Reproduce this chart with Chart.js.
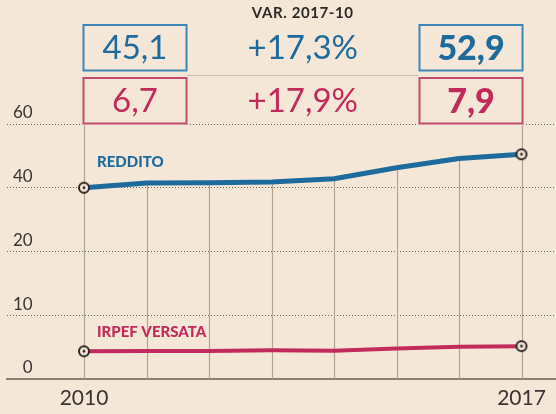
<!DOCTYPE html>
<html>
<head>
<meta charset="utf-8">
<script src="https://cdn.jsdelivr.net/npm/chart.js@4.4.1/dist/chart.umd.min.js"></script>
<style>
  html, body { margin: 0; padding: 0; background: #f5e7d8; }
  #wrap { width: 556px; height: 414px; }
</style>
</head>
<body>
<div id="wrap"><canvas id="chart" width="556" height="414"></canvas></div>
<script>
// values
const years = [2010, 2011, 2012, 2013, 2014, 2015, 2016, 2017];
const reddito = [40.0, 41.5, 41.6, 41.8, 42.8, 46.3, 49.2, 50.5];
const irpef = [4.35, 4.4, 4.4, 4.5, 4.45, 4.8, 5.05, 5.15];
const yTickValues = [0, 10, 20, 40, 60];
const xTickLabels = [2010, 2017];
const seriesNames = ["REDDITO", "IRPEF VERSATA"];
const startValues = [45.1, 6.7];
const endValues = [52.9, 7.9];
const changes = ["+17,3%", "+17,9%"];
const headerTitle = "VAR. 2017-10";

const BLUE = "#1d6a9c";
const RED = "#c02b5b";
const BG = "#f5e7d8";
const INK = "#3a3330";
const FONT = "Lato, 'Open Sans', sans-serif";

// the y axis is not linear: ticks 0,10,20,40,60 are evenly spaced
function toAxis(v) {
  for (let k = 0; k < yTickValues.length - 1; k++) {
    const a = yTickValues[k], b = yTickValues[k + 1];
    if (v <= b) return k + (v - a) / (b - a);
  }
  return yTickValues.length - 1;
}

const fmt = (v) => v.toFixed(1).replace(".", ",");

function makeMarker() {
  const c = document.createElement("canvas");
  c.width = 14; c.height = 14;
  const g = c.getContext("2d");
  g.beginPath();
  g.arc(7, 7, 5, 0, Math.PI * 2);
  g.fillStyle = BG;
  g.fill();
  g.lineWidth = 2;
  g.strokeStyle = "#2b2421";
  g.stroke();
  g.beginPath();
  g.arc(7, 7, 1.4, 0, Math.PI * 2);
  g.fillStyle = "#2b2421";
  g.fill();
  return c;
}
const marker = makeMarker();

const endPointRadius = (ctx) =>
  ctx.dataIndex === 0 || ctx.dataIndex === years.length - 1 ? 6 : 0;

// vertical lines from the reddito line down to the axis
const dropLines = {
  id: "dropLines",
  beforeDatasetsDraw(chart) {
    const { ctx, chartArea, scales } = chart;
    const pts = chart.getDatasetMeta(0).data;
    ctx.save();
    ctx.strokeStyle = "#b2a291";
    ctx.lineWidth = 1.2;
    years.forEach((yr, i) => {
      const px = Math.round(scales.x.getPixelForValue(yr)) + 0.5;
      const edge = i === 0 || i === years.length - 1;
      const top = edge ? chartArea.top - 1 : pts[i].y;
      ctx.beginPath();
      ctx.moveTo(px, top);
      ctx.lineTo(px, chartArea.bottom);
      ctx.stroke();
    });
    ctx.restore();
  },
};

// boxes with start/end values, variation and series names
const header = {
  id: "header",
  afterDraw(chart) {
    const { ctx, scales } = chart;
    const x0 = scales.x.getPixelForValue(years[0]);
    const x1 = scales.x.getPixelForValue(years[years.length - 1]);
    const boxW = 103, boxH = 45.5;
    const rows = [25, 78];
    const colors = [BLUE, RED];
    const borders = ["#3b86b6", "#c64c6e"];
    const mid = (x0 + x1) / 2;
    ctx.save();

    ctx.fillStyle = "#2e2825";
    ctx.font = "bold 15px " + FONT;
    ctx.letterSpacing = "0.6px";
    ctx.textAlign = "center";
    ctx.textBaseline = "middle";
    ctx.fillText(headerTitle, mid, 13);
    ctx.letterSpacing = "0px";

    // thin separator between the two rows
    ctx.strokeStyle = "#cdbdad";
    ctx.lineWidth = 1;
    ctx.beginPath();
    ctx.moveTo(x0 + boxW, 75.5);
    ctx.lineTo(x1 - boxW, 75.5);
    ctx.stroke();

    rows.forEach((top, r) => {
      [x0 - 0.5, x1 + 1 - boxW].forEach((left, c) => {
        ctx.fillStyle = BG;
        ctx.fillRect(left - 1, top - 1, boxW + 2, boxH + 3);
        ctx.strokeStyle = borders[r];
        ctx.lineWidth = 2;
        ctx.strokeRect(left, top, boxW, boxH);
        ctx.fillStyle = colors[r];
        ctx.font = c === 1 ? "900 34px " + FONT : "33px " + FONT;
        ctx.fillText(fmt(c === 0 ? startValues[r] : endValues[r]), left + boxW / 2, top + boxH / 2 + 1);
      });
      ctx.fillStyle = colors[r];
      ctx.font = "33px " + FONT;
      ctx.fillText(changes[r], mid, top + boxH / 2 + 1);
    });

    // series labels next to the first point
    const offsets = [-26, -19];
    [0, 1].forEach((d) => {
      const p = chart.getDatasetMeta(d).data[0];
      ctx.fillStyle = colors[d];
      ctx.font = "900 15px " + FONT;
      ctx.textAlign = "left";
      ctx.fillText(seriesNames[d], p.x + 13, p.y + offsets[d]);
    });
    ctx.restore();
  },
};

const pxPerYear = 62.5;

new Chart(document.getElementById("chart"), {
  type: "line",
  data: {
    datasets: [
      {
        label: seriesNames[0],
        data: years.map((yr, i) => ({ x: yr, y: toAxis(reddito[i]) })),
        borderColor: BLUE,
        borderWidth: 5,
        tension: 0,
        pointStyle: marker,
        pointRadius: endPointRadius,
        borderCapStyle: "round",
      },
      {
        label: seriesNames[1],
        data: years.map((yr, i) => ({ x: yr, y: toAxis(irpef[i]) })),
        borderColor: RED,
        borderWidth: 4,
        tension: 0,
        pointStyle: marker,
        pointRadius: endPointRadius,
        borderCapStyle: "round",
      },
    ],
  },
  options: {
    responsive: false,
    animation: false,
    layout: { autoPadding: false, padding: { top: 124, left: 7, right: 0, bottom: 0 } },
    plugins: { legend: { display: false }, tooltip: { enabled: false } },
    scales: {
      x: {
        type: "linear",
        min: years[0] - 77 / pxPerYear,
        max: years[years.length - 1] + 34.5 / pxPerYear,
        afterBuildTicks: (s) => { s.ticks = xTickLabels.map((v) => ({ value: v })); },
        afterFit: (s) => { s.paddingLeft = 0; s.paddingRight = 0; s.height = 35; },
        grid: { display: false, drawTicks: false },
        border: { display: true, color: "#8e7e6f", width: 2 },
        ticks: {
          color: INK,
          padding: 7,
          font: { family: FONT, size: 21 },
          callback: (v) => String(v),
          maxRotation: 0,
        },
      },
      y: {
        min: 0,
        max: yTickValues.length - 1,
        afterBuildTicks: (s) => { s.ticks = yTickValues.map((v, i) => ({ value: i })); },
        afterFit: (s) => { s.width = 0; },
        grid: {
          color: (c) => (c.tick && c.tick.value === 0 ? "rgba(0,0,0,0)" : "#6f6158"),
          lineWidth: 1,
          drawTicks: false,
        },
        border: { display: false, dash: [1, 2] },
        ticks: {
          mirror: true,
          crossAlign: "far",
          padding: 6,
          labelOffset: -11,
          color: INK,
          font: { family: FONT, size: 17 },
          callback: (v) => String(yTickValues[v]),
        },
      },
    },
  },
  plugins: [dropLines, header],
});
</script>
</body>
</html>
